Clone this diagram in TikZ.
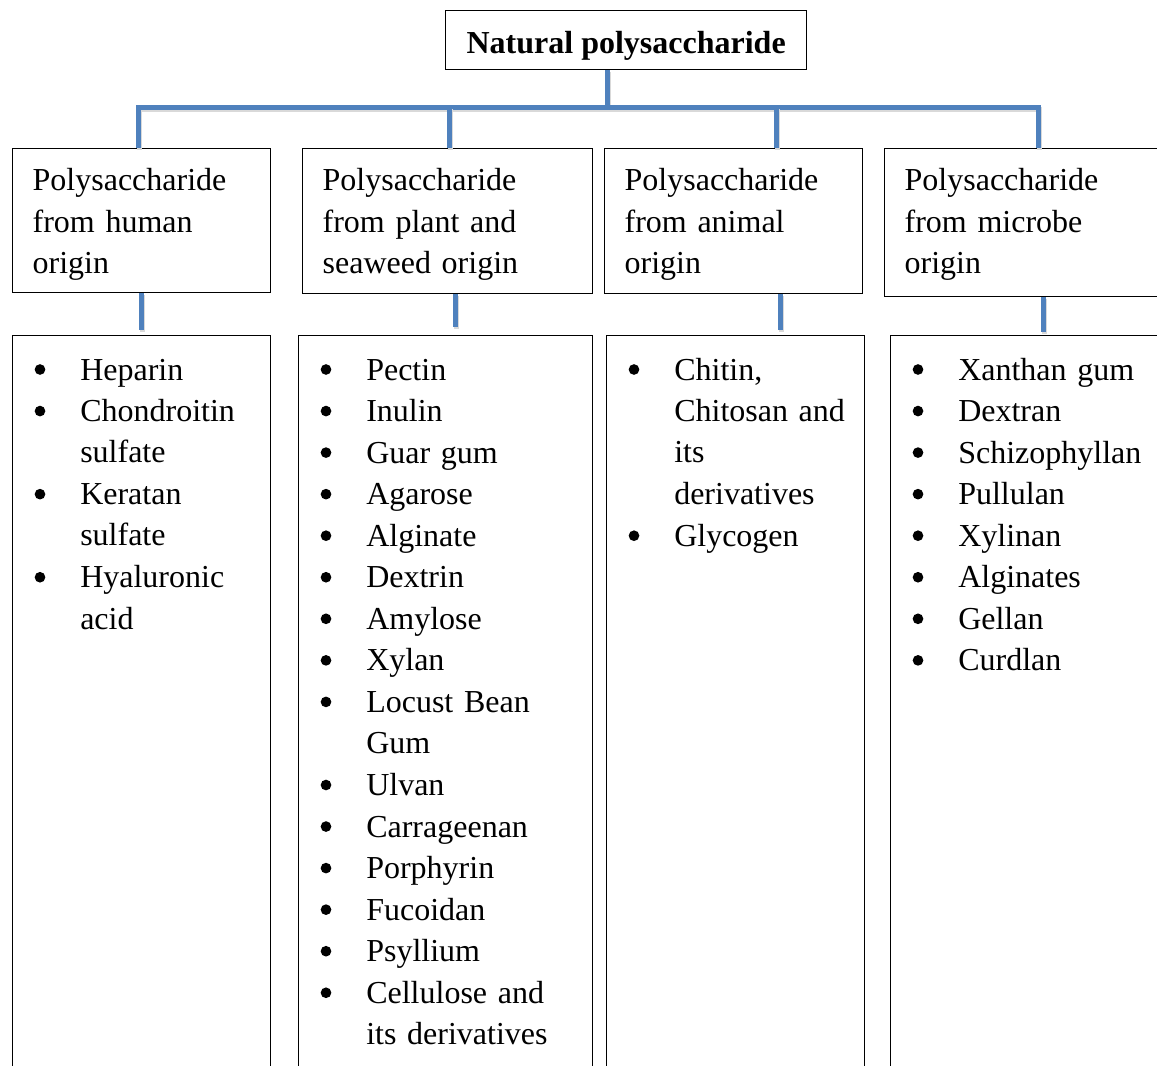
\documentclass[tikz,border=0pt]{standalone}
\usepackage{fontspec}
\setmainfont{Liberation Serif}
\definecolor{linkblue}{HTML}{4F81BD}
\newcommand\listfont{\fontsize{24}{31}\selectfont}

\begin{document}
\begin{tikzpicture}[x=0.75pt,y=-0.75pt,
   box/.style={draw=black,line width=1pt,inner sep=0pt,anchor=north west},
   title/.style={box,font=\listfont\bfseries,minimum width=270.75pt,text height=32.25pt,text depth=12pt},
   head/.style 2 args={box,align=left,font=\listfont,inner xsep=15pt,text width=#1,text height=31.5pt,text depth=#2},
   list/.style 2 args={box,minimum width=#1,minimum height=#2},
   link/.style={draw=linkblue,line width=3.75pt,preaction={draw=black!15,line width=3.75pt,transform canvas={shift={(0.8pt,-1.6pt)}}}},
   bul/.style={circle,fill=black,inner sep=0pt,minimum size=8pt},
   itm/.style={anchor=base west,align=left,font=\listfont,inner sep=0pt,text width=150pt}]
   \def\p{41.55} % line pitch (px)
   \def\t{380} % first baseline (px)
   \def\d{10.5} % bullet above baseline (px)
   \useasboundingbox (0,0) rectangle (1157,1065);
   \clip (0,0) rectangle (1157,1065);
   % top
   \node[title] (root) at (445,10) {Natural polysaccharide};
   \coordinate (bar) at (607,107);
   % second row
   \node[head={163.5pt}{76.5pt}] (h1) at (12,148) {Polysaccharide\\from human\\origin};
   \node[head={187.5pt}{77.25pt}] (h2) at (302,148) {Polysaccharide\\from plant and\\seaweed origin};
   \node[head={163.5pt}{77.25pt}] (h3) at (604,148) {Polysaccharide\\from animal\\origin};
   \node[head={199.5pt}{79.5pt}] (h4) at (884,148) {Polysaccharide\\from microbe\\origin};
   % third row
   \node[list={193.5pt}{573.75pt}] (l1) at (12,335) {};
   \node[list={220.5pt}{573.75pt}] (l2) at (298,335) {};
   \node[list={193.5pt}{573.75pt}] (l3) at (606,335) {};
   \node[list={225pt}{573.75pt}] (l4) at (890,335) {};
   % connectors
   \draw[link] (root.south -| bar) -- (bar);
   \draw[link] (138,0 |- h1.north) |- (bar) -| (1038,0 |- h4.north);
   \draw[link] (449,0 |- bar) -- (449,0 |- h2.north);
   \draw[link] (776,0 |- bar) -- (776,0 |- h3.north);
   \draw[link,shorten >=3.5pt] (141,0 |- h1.south) -- (141,0 |- l1.north);
   \draw[link,shorten >=6pt] (455,0 |- h2.south) -- (455,0 |- l2.north);
   \draw[link,shorten >=3.5pt] (780,0 |- h3.south) -- (780,0 |- l3.north);
   \draw[link,shorten >=2.5pt] (1043,0 |- h4.south) -- (1043,0 |- l4.north);
   % human origin
   \foreach \k/\txt in {0/Heparin,1/{Chondroitin\\sulfate},3/{Keratan\\sulfate},5/{Hyaluronic\\acid}}{
      \node[bul] (a\k-dot) at (40,\t+\k*\p-\d) {};
      \node[itm] (a\k) at (80,\t+\k*\p) {\txt};}
   % plant and seaweed origin
   \foreach \k/\txt in {0/Pectin,1/Inulin,2/Guar gum,3/Agarose,4/Alginate,5/Dextrin,6/Amylose,7/Xylan,8/{Locust Bean\\Gum},10/Ulvan,11/Carrageenan,12/Porphyrin,13/Fucoidan,14/Psyllium,15/{Cellulose and\\its derivatives}}{
      \node[bul] (b\k-dot) at (326,\t+\k*\p-\d) {};
      \node[itm] (b\k) at (366,\t+\k*\p) {\txt};}
   % animal origin
   \foreach \k/\txt in {0/{Chitin,\\Chitosan and\\its\\derivatives},4/Glycogen}{
      \node[bul] (c\k-dot) at (634,\t+\k*\p-\d) {};
      \node[itm] (c\k) at (674,\t+\k*\p) {\txt};}
   % microbe origin
   \foreach \k/\txt in {0/Xanthan gum,1/Dextran,2/Schizophyllan,3/Pullulan,4/Xylinan,5/Alginates,6/Gellan,7/Curdlan}{
      \node[bul] (d\k-dot) at (918,\t+\k*\p-\d) {};
      \node[itm] (d\k) at (958,\t+\k*\p) {\txt};}
\end{tikzpicture}
\end{document}
